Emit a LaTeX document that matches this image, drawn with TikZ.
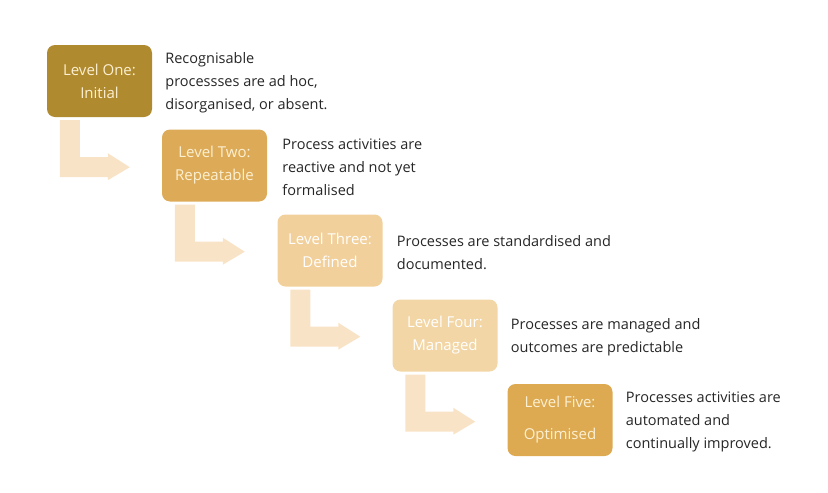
\documentclass[tikz,border=0pt]{standalone}
\usepackage{fontspec}
\setmainfont{Open Sans}
\definecolor{lvlone}{HTML}{B08A2F}
\definecolor{lvltwo}{HTML}{DDAB58}
\definecolor{lvlthree}{HTML}{F2D09B}
\definecolor{lvlfour}{HTML}{F3D6A6}
\definecolor{lvlfive}{HTML}{DDAA52}
\definecolor{bendfill}{HTML}{F9E3C6}
\definecolor{lvltext}{HTML}{FCF0D2}
\definecolor{desctext}{HTML}{262626}

\begin{document}
\begin{tikzpicture}[x=1pt,y=-1pt]
			\tikzstyle{level}=[rounded corners=8pt, minimum width=105pt, minimum height=72pt, inner sep=0pt, align=center, text=lvltext, font=\fontsize{15}{23}\selectfont]
			\tikzstyle{desc}=[anchor=west, inner sep=0pt, align=left, text=desctext, font=\fontsize{14.5}{23}\selectfont]
			\tikzstyle{bentarrow}=[fill=bendfill]
			\useasboundingbox (0,0) rectangle (828,493);
			\node [level, fill=lvlone] (one) at (99.5,81) {Level One:\\Initial};
			\node [level, fill=lvltwo] (two) at (214.5,165.5) {Level Two:\\Repeatable};
			\node [level, fill=lvlthree, text=white] (three) at (330,250.5) {Level Three:\\Defined};
			\node [level, fill=lvlfour, text=white] (four) at (445,335.5) {Level Four:\\Managed};
			\node [level, fill=lvlfive, font=\fontsize{15}{32}\selectfont] (five) at (560,420) {Level Five:\\Optimised};
			\node [desc] (onetxt) at ([xshift=13pt,yshift=-2pt]one.east) {Recognisable\\processses are ad hoc,\\disorganised, or absent.};
			\node [desc] (twotxt) at ([xshift=15pt,yshift=-2pt]two.east) {Process activities are\\reactive and not yet\\formalised};
			\node [desc] (threetxt) at ([xshift=14pt,yshift=-2pt]three.east) {Processes are standardised and\\documented.};
			\node [desc] (fourtxt) at ([xshift=13pt,yshift=-2pt]four.east) {Processes are managed and\\outcomes are predictable};
			\node [desc] (fivetxt) at ([xshift=13pt,yshift=-2pt]five.east) {Processes activities are\\automated and\\continually improved.};
			\foreach \a in {one,two,three,four}
				\fill [bentarrow] ([xshift=13pt,yshift=-3pt]\a.south west) -- ++(20,0) -- ++(0,37) -- ++(28,0) -- ++(0,-4) -- ++(22,14) -- ++(-22,13) -- ++(0,-3) -- ++(-48,0) -- cycle;
		\end{tikzpicture}
\end{document}
